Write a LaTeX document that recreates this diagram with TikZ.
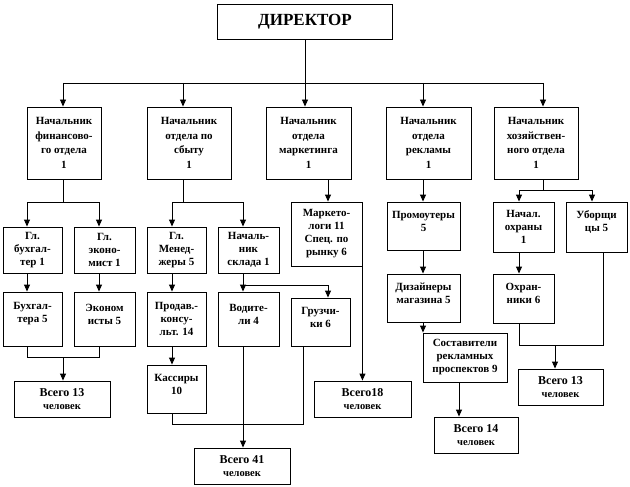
\documentclass[tikz,border=0pt]{standalone}
\usepackage{fontspec}
\setmainfont{Liberation Serif}
\usetikzlibrary{arrows.meta}

% text block of a box: width, height, lines
\newcommand{\cell}[3]{\parbox[c][#2pt][c]{#1pt}{\centering #3\par}}
\newcommand{\lift}{\par\vspace{10pt}}
\newcommand{\ppl}{\\\fontsize{10.5}{13}\selectfont человек}

\tikzset{
  unit/.style={draw, line width=0.9pt, inner sep=0pt, font=\fontsize{11}{13}\selectfont\bfseries},
  head/.style={unit, font=\fontsize{11}{14.5}\selectfont\bfseries},
  total/.style={unit, font=\fontsize{12}{13}\selectfont\bfseries},
  link/.style={line width=0.9pt},
  arr/.style={link, -{Triangle[width=6pt,length=7pt]}},
}

\begin{document}
\begin{tikzpicture}[x=1pt, y=-1pt]
  \path[fill=white, use as bounding box] (0,0) rectangle (630,487);

  % director and heads
  \node[unit, minimum width=175, minimum height=35, font=\fontsize{17}{20}\selectfont\bfseries] (dir) at (305,21.5) {ДИРЕКТОР};
  \node[head] (fin) at (64,143) {\cell{74}{72}{Начальник\\финансово-\\го отдела\\1}};
  \node[head] (sal) at (189,143) {\cell{84}{72}{Начальник\\отдела по\\сбыту\\1}};
  \node[head] (mkt) at (308.5,143) {\cell{85}{72}{Начальник\\отдела\\маркетинга\\1}};
  \node[head] (adv) at (428.5,143) {\cell{85}{72}{Начальник\\отдела\\рекламы\\1}};
  \node[head] (hh) at (536,143) {\cell{84}{72}{Начальник\\хозяйствен-\\ного отдела\\1}};

  % finance and sales
  \node[unit] (buhg) at (32.5,250) {\cell{59}{46}{Гл.\\бухгал-\\тер 1}};
  \node[unit] (econ) at (104.5,250) {\cell{61}{46}{Гл.\\эконо-\\мист 1}};
  \node[unit] (mgr) at (176.5,250) {\cell{59}{46}{Гл.\\Менед-\\жеры 5}};
  \node[unit] (skl) at (248.5,250) {\cell{61}{46}{Началь-\\ник\\склада 1}};
  \node[unit] (buh) at (32.5,319) {\cell{59}{54}{Бухгал-\\тера 5\lift}};
  \node[unit] (ecn) at (104.5,319) {\cell{61}{54}{Эконом\\исты 5\lift}};
  \node[unit] (prod) at (176.5,319) {\cell{59}{54}{Продав.-\\консу-\\льт. 14}};
  \node[unit] (drv) at (248.5,319) {\cell{61}{54}{Водите-\\ли 4\lift}};
  \node[unit] (ldr) at (320.5,322) {\cell{59}{48}{Грузчи-\\ки 6\lift}};
  \node[unit] (cash) at (176.5,389) {\cell{59}{48}{Кассиры\\10\lift}};

  % marketing, advertising, household
  \node[unit] (mrk) at (326.5,234) {\cell{71}{64}{Маркето-\\логи 11\\Спец. по\\рынку 6}};
  \node[unit] (prom) at (423.5,226) {\cell{73}{48}{Промоутеры\\5\lift}};
  \node[unit] (des) at (423.5,298) {\cell{73}{48}{Дизайнеры\\магазина 5\lift}};
  \node[unit] (cmp) at (465,357.5) {\cell{84}{49}{Составители\\рекламных\\проспектов 9}};
  \node[unit] (grd) at (523.5,227) {\cell{61}{50}{Начал.\\охраны\\1}};
  \node[unit] (cln) at (596.5,227) {\cell{61}{50}{Уборщи\\цы 5\lift}};
  \node[unit] (gds) at (523.5,298.5) {\cell{61}{49}{Охран-\\ники 6\lift}};

  % totals
  \node[total] (tfin) at (62,399) {\cell{96}{36}{Всего 13\ppl}};
  \node[total] (tsal) at (242,466) {\cell{96}{36}{Всего 41\ppl}};
  \node[total] (tmkt) at (362.5,399) {\cell{97}{36}{Всего18\ppl}};
  \node[total] (tadv) at (476,435) {\cell{84}{36}{Всего 14\ppl}};
  \node[total] (thh) at (560.5,387) {\cell{85}{36}{Всего 13\ppl}};

  % director to heads
  \draw[link] (dir.south) -- (305,83);
  \draw[link] (63,83) -- (543,83);
  \foreach \n/\x in {fin/63,sal/183,mkt/305,adv/423,hh/543}
    \draw[arr] (\x,83) -- (\n.north -| \x,0);

  % heads to staff
  \draw[link] (fin.south -| 63,0) -- (63,202);
  \draw[link] (27,202) -- (99,202);
  \draw[arr] (27,202) -- (buhg.north -| 27,0);
  \draw[arr] (99,202) -- (econ.north -| 99,0);
  \draw[link] (sal.south -| 183,0) -- (183,202);
  \draw[link] (172,202) -- (243,202);
  \draw[arr] (172,202) -- (mgr.north -| 172,0);
  \draw[arr] (243,202) -- (skl.north -| 243,0);
  \draw[arr] (mkt.south -| 328,0) -- (mrk.north -| 328,0);
  \draw[arr] (adv.south -| 423,0) -- (prom.north -| 423,0);
  \draw[link] (hh.south -| 543,0) -- (543,190);
  \draw[link] (519,190) -- (592,190);
  \draw[arr] (519,190) -- (grd.north -| 519,0);
  \draw[arr] (592,190) -- (cln.north -| 592,0);

  \draw[arr] (buhg.south -| 27,0) -- (buh.north -| 27,0);
  \draw[arr] (econ.south -| 99,0) -- (ecn.north -| 99,0);
  \draw[arr] (mgr.south -| 172,0) -- (prod.north -| 172,0);
  \draw[arr] (skl.south -| 243,0) -- (drv.north -| 243,0);
  \draw[arr] (243,285) -| (ldr.north -| 328,0);
  \draw[arr] (prod.south -| 172,0) -- (cash.north -| 172,0);
  \draw[arr] (prom.south -| 423,0) -- (des.north -| 423,0);
  \draw[arr] (des.south -| 423,0) -- (cmp.north -| 423,0);
  \draw[arr] (grd.south -| 519,0) -- (gds.north -| 519,0);

  % staff to totals
  \draw[link] (buh.south -| 27,0) -- (27,357) -- (99,357) -- (ecn.south -| 99,0);
  \draw[arr] (63,357) -- (tfin.north -| 63,0);
  \draw[link] (cash.south -| 172,0) -- (172,424) -- (303,424) -- (ldr.south -| 303,0);
  \draw[arr] (drv.south -| 243,0) -- (tsal.north -| 243,0);
  \draw[arr] (mrk.south east) -- (mrk.south east |- tmkt.north);
  \draw[arr] (cmp.south -| 459,0) -- (tadv.north -| 459,0);
  \draw[link] (gds.south -| 519,0) -- (519,345) -- (603,345) -- (cln.south -| 603,0);
  \draw[arr] (555,345) -- (thh.north -| 555,0);
\end{tikzpicture}
\end{document}
